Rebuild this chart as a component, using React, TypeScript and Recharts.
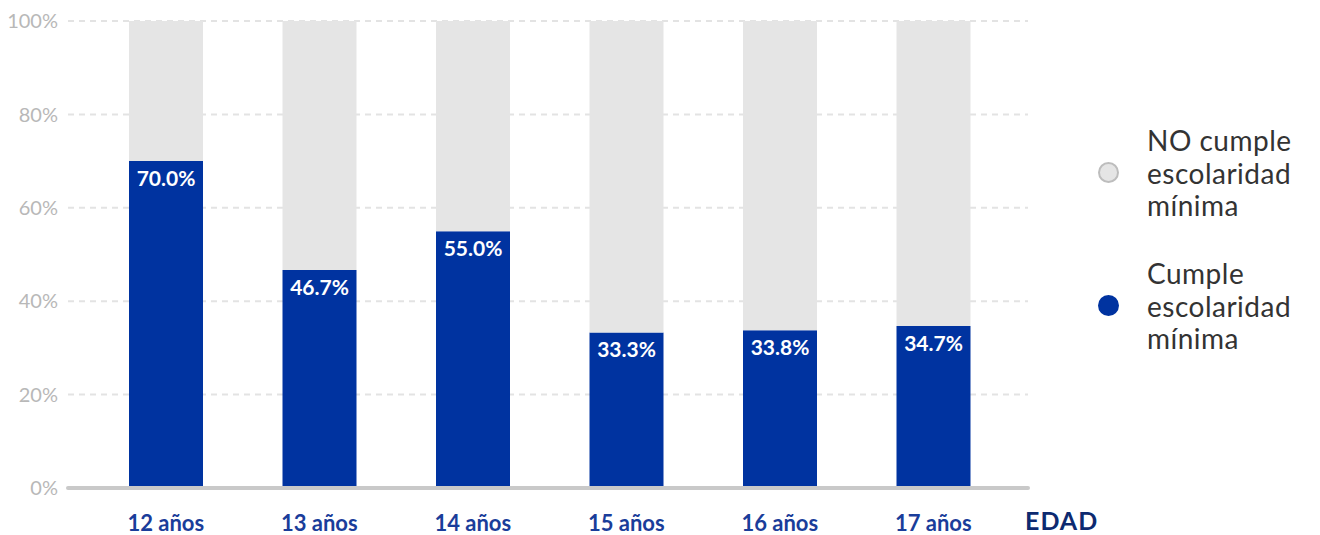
import React from "react"
import { BarChart, Bar, XAxis, YAxis, CartesianGrid, LabelList, Label } from "recharts"

const categories = ["12 años", "13 años", "14 años", "15 años", "16 años", "17 años"]
const cumple = [70.0, 46.7, 55.0, 33.3, 33.8, 34.7]
const noCumple = cumple.map((v) => +(100 - v).toFixed(1))
const yTicks = [0, 20, 40, 60, 80, 100]

const legendItems = [
  { lines: ["NO cumple", "escolaridad", "mínima"], fill: "#e5e5e5", stroke: "#bdbdbd", top: 116 },
  { lines: ["Cumple", "escolaridad", "mínima"], fill: "#0033a0", stroke: "#0033a0", top: 249 },
]

const data = categories.map((name, i) => ({ name, cumple: cumple[i], noCumple: noCumple[i] }))

const FONT = "Lato, 'Open Sans', sans-serif"

export default function App() {
  return (
    <div style={{ position: "relative", width: 1304, height: 527, fontFamily: FONT }}>
      <BarChart
        width={1304}
        height={527}
        data={data}
        margin={{ top: 13, right: 284, left: 0, bottom: 6 }}
        barSize={74}
      >
        <CartesianGrid vertical={false} stroke="#e3e3e3" strokeWidth={2} strokeDasharray="6 5" />
        <XAxis
          dataKey="name"
          padding={{ left: 21, right: 18 }}
          axisLine={{ stroke: "#c9c9c9", strokeWidth: 4, strokeLinecap: "round" }}
          tickLine={false}
          tickSize={0}
          tickMargin={27}
          height={41}
          tick={{ fill: "#1a3d9a", fontSize: 22, fontWeight: 700, fontFamily: FONT }}
        >
          <Label
            content={(props: any) => {
              const vb = props.viewBox
              return (
                <text
                  x={vb.x + vb.width - 3}
                  y={vb.y + 42}
                  fill="#0d2a70"
                  fontSize={25}
                  fontWeight={700}
                  letterSpacing={1}
                  fontFamily={FONT}
                >
                  EDAD
                </text>
              )
            }}
          />
        </XAxis>
        <YAxis
          domain={[0, 100]}
          ticks={yTicks}
          width={60}
          axisLine={false}
          tickLine={false}
          tickSize={0}
          tickMargin={10}
          tickFormatter={(v) => `${v}%`}
          tick={{ fill: "#b8b8b8", fontSize: 20, fontFamily: FONT }}
        />
        <Bar dataKey="cumple" stackId="a" fill="#0033a0" isAnimationActive={false}>
          <LabelList
            dataKey="cumple"
            position="insideTop"
            offset={10}
            formatter={(v: any) => `${Number(v).toFixed(1)}%`}
            fill="#ffffff"
            style={{ fontSize: 21, fontWeight: 700, fontFamily: FONT }}
          />
        </Bar>
        <Bar dataKey="noCumple" stackId="a" fill="#e5e5e5" isAnimationActive={false} />
      </BarChart>
      {legendItems.map((item) => (
        <div
          key={item.lines[0]}
          style={{
            position: "absolute",
            left: 1090,
            top: item.top,
            display: "flex",
            alignItems: "center",
          }}
        >
          <div
            style={{
              width: 17,
              height: 17,
              borderRadius: "50%",
              background: item.fill,
              border: `2px solid ${item.stroke}`,
              marginRight: 28,
            }}
          />
          <div style={{ fontSize: 28, lineHeight: "32.5px", letterSpacing: 0.5, color: "#333333" }}>
            {item.lines.map((l) => (
              <div key={l}>{l}</div>
            ))}
          </div>
        </div>
      ))}
    </div>
  )
}
